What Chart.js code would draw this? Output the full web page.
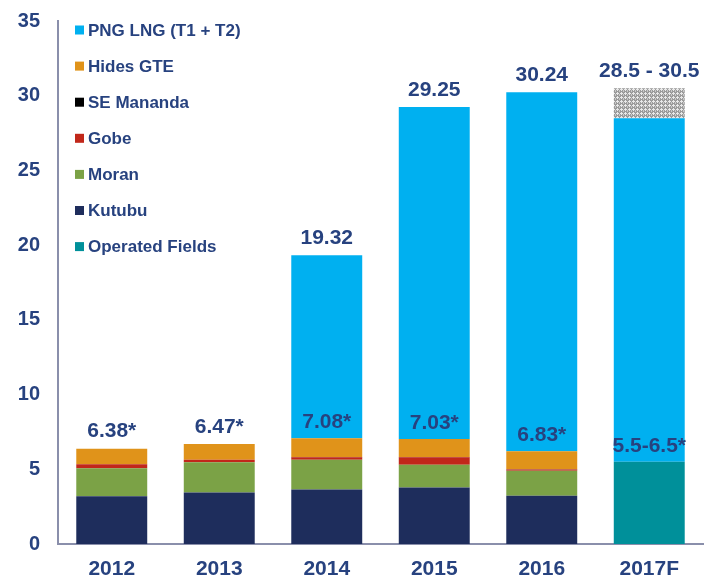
<!DOCTYPE html>
<html>
<head>
<meta charset="utf-8">
<script src="https://cdn.jsdelivr.net/npm/chart.js@4.4.1/dist/chart.umd.min.js"></script>
<style>
  html, body { margin: 0; padding: 0; background: #fff; }
  #wrap { width: 718px; height: 578px; }
</style>
</head>
<body>
<div id="wrap"><canvas id="gas"></canvas></div>
<script>
const years = ['2012', '2013', '2014', '2015', '2016', '2017F'];
const kutubu = [3.20, 3.45, 3.65, 3.78, 3.23, 0];
const moran = [1.87, 2.02, 1.98, 1.53, 1.68, 0];
const gobe = [0.26, 0.17, 0.17, 0.50, 0.08, 0];
const seMananda = [0, 0, 0.03, 0.02, 0.02, 0];
const hides = [1.05, 1.05, 1.25, 1.20, 1.20, 0];
const operated = [0, 0, 0, 0, 0, 5.5];
const pngLng = [0, 0, 12.24, 22.22, 24.03, 23.0];
const forecastRange = [0, 0, 0, 0, 0, 2.0];

const totalLabels = ['6.38*', '6.47*', '19.32', '29.25', '30.24', '28.5 - 30.5'];
const innerLabels = ['', '', '7.08*', '7.03*', '6.83*', '5.5-6.5*'];

const navy = '#27427f';
const font = 'Arial, "Liberation Sans", sans-serif';

// grey speckled fill for the forecast range
function hatch() {
    const c = document.createElement('canvas');
    c.width = 4; c.height = 4;
    const g = c.getContext('2d');
    g.fillStyle = '#9a9a9a';
    g.fillRect(0, 0, 4, 4);
    g.fillStyle = '#e8e8e8';
    g.fillRect(1, 0, 1, 1);
    g.fillRect(0, 1, 3, 1);
    g.fillRect(1, 2, 1, 1);
    g.fillStyle = '#c8c8c8';
    g.fillRect(3, 2, 1, 1);
    g.fillRect(3, 3, 1, 1);
    return g.createPattern(c, 'repeat');
}

const legendItems = [
    ['PNG LNG (T1 + T2)', '#00b0f0'],
    ['Hides GTE', '#e0931a'],
    ['SE Mananda', '#000000'],
    ['Gobe', '#c1271a'],
    ['Moran', '#7ba246'],
    ['Kutubu', '#1e2d5c'],
    ['Operated Fields', '#00909a']
];

const legendPlugin = {
    id: 'sideLegend',
    afterDraw(chart) {
        const ctx = chart.ctx;
        ctx.save();
        ctx.font = 'bold 17px ' + font;
        ctx.textBaseline = 'middle';
        legendItems.forEach((it, i) => {
            const y = 30 + i * 36.1;
            ctx.fillStyle = it[1];
            ctx.fillRect(75, y - 4.5, 9, 9);
            ctx.fillStyle = navy;
            ctx.fillText(it[0], 88, y + 1);
        });
        ctx.restore();
    }
};

const labelPlugin = {
    id: 'barLabels',
    afterDatasetsDraw(chart) {
        const ctx = chart.ctx;
        const x = chart.scales.x, y = chart.scales.y;
        ctx.save();
        ctx.font = 'bold 21px ' + font;
        ctx.fillStyle = navy;
        ctx.textAlign = 'center';
        ctx.textBaseline = 'middle';
        years.forEach((yr, i) => {
            const base = kutubu[i] + moran[i] + gobe[i] + seMananda[i] + hides[i] + operated[i];
            const top = base + pngLng[i] + forecastRange[i];
            const cx = x.getPixelForValue(i);
            ctx.fillText(totalLabels[i], cx, y.getPixelForValue(top) - 17);
            if (innerLabels[i]) {
                ctx.fillText(innerLabels[i], cx, y.getPixelForValue(base) - 16);
            }
        });
        ctx.restore();
    }
};

function ds(label, data, color) {
    return {
        label,
        data,
        backgroundColor: color,
        borderWidth: 0,
        categoryPercentage: 1,
        barPercentage: 0.66
    };
}

new Chart(document.getElementById('gas'), {
    type: 'bar',
    data: {
        labels: years,
        datasets: [
            ds('Kutubu', kutubu, '#1e2d5c'),
            ds('Moran', moran, '#7ba246'),
            ds('Gobe', gobe, '#c1271a'),
            ds('SE Mananda', seMananda, '#3a1a10'),
            ds('Hides GTE', hides, '#e0931a'),
            ds('Operated Fields', operated, '#00909a'),
            ds('PNG LNG (T1 + T2)', pngLng, '#00b0f0'),
            ds('Range', forecastRange, hatch())
        ]
    },
    options: {
        responsive: true,
        maintainAspectRatio: false,
        animation: false,
        layout: { padding: { top: 21, right: 15, left: 0, bottom: 0 } },
        plugins: { legend: { display: false }, tooltip: { enabled: false } },
        scales: {
            x: {
                stacked: true,
                grid: { display: false, drawTicks: false },
                border: { display: true, color: '#8a8fab', width: 2 },
                ticks: { color: navy, font: { family: font, size: 21, weight: 'bold' }, padding: 13 },
                afterFit(s) { s.height = 34; }
            },
            y: {
                stacked: true,
                min: 0,
                max: 35,
                grid: { display: false, drawTicks: false },
                border: { display: true, color: '#8a8fab', width: 2 },
                ticks: { stepSize: 5, color: navy, font: { family: font, size: 20, weight: 'bold' }, padding: 18 },
                afterFit(s) { s.width = 58; s.paddingTop = 0; s.paddingBottom = 0; }
            }
        }
    },
    plugins: [legendPlugin, labelPlugin]
});
</script>
</body>
</html>
